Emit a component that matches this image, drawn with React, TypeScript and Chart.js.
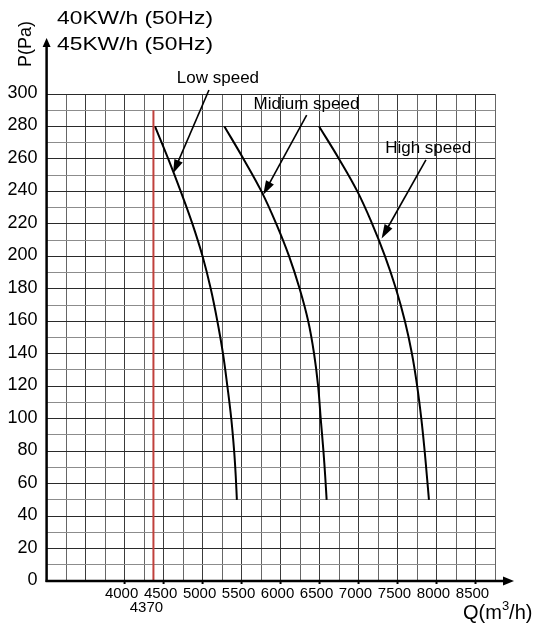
import React, { useEffect, useRef } from "react";
import { Chart, registerables } from "chart.js";

Chart.register(...registerables);

// ---- data ----
const lowQ = [4390, 4560, 4720, 4870, 5000, 5105, 5190, 5262, 5318, 5368, 5405, 5425, 5440];
const lowP = [280, 260, 240, 220, 200, 180, 160, 140, 120, 100, 80, 65, 50];
const midQ = [5280, 5525, 5755, 5945, 6110, 6245, 6355, 6430, 6482, 6515, 6550, 6572, 6591];
const midP = [280, 260, 240, 220, 200, 180, 160, 140, 120, 100, 80, 65, 50];
const highQ = [6495, 6750, 6985, 7175, 7340, 7480, 7595, 7685, 7752, 7805, 7848, 7876, 7903];
const highP = [280, 260, 240, 220, 200, 180, 160, 140, 120, 100, 80, 65, 50];
const markQ = 4370;
const markTopP = 290;

const xTickLabels = [4000, 4500, 5000, 5500, 6000, 6500, 7000, 7500, 8000, 8500];
const yTickLabels = [0, 20, 40, 60, 80, 100, 120, 140, 160, 180, 200, 220, 240, 260, 280, 300];

const speedNames = ["Low speed", "Midium speed", "High speed"];
// label anchor (Q, P) and arrow start/tip (Q, P)
const labelQ = [5197, 6333, 7893];
const labelP = [306.8, 290.5, 263.5];
const arrowFromQ = [5082, 6335, 7864];
const arrowFromP = [302.5, 287, 259.4];
const arrowToQ = [4621, 5778, 7296];
const arrowToP = [251, 238, 211];

const headerLines = ["40KW/h (50Hz)", "45KW/h (50Hz)"];

const FONT = '"Liberation Sans", Arial, Helvetica, sans-serif';

function pts(q: number[], p: number[]) {
  return q.map((v, i) => ({ x: v, y: p[i] }));
}

function arrowHead(ctx: CanvasRenderingContext2D, x1: number, y1: number, x2: number, y2: number, len: number, half: number) {
  const a = Math.atan2(y2 - y1, x2 - x1);
  const bx = x2 - len * Math.cos(a);
  const by = y2 - len * Math.sin(a);
  ctx.beginPath();
  ctx.moveTo(x2, y2);
  ctx.lineTo(bx + half * Math.sin(a), by - half * Math.cos(a));
  ctx.lineTo(bx - half * Math.sin(a), by + half * Math.cos(a));
  ctx.closePath();
  ctx.fill();
}

const decorPlugin = {
  id: "decor",
  afterDraw(chart: any) {
    const ctx: CanvasRenderingContext2D = chart.ctx;
    const xs = chart.scales.x;
    const ys = chart.scales.y;
    const area = chart.chartArea;
    ctx.save();
    ctx.fillStyle = "#000";
    ctx.strokeStyle = "#000";

    // y axis + arrow
    const x0 = area.left;
    const y0 = area.bottom;
    ctx.lineWidth = 2.5;
    ctx.beginPath();
    ctx.moveTo(x0, y0 + 1);
    ctx.lineTo(x0, 46);
    ctx.stroke();
    arrowHead(ctx, x0, 60, x0, 38, 9, 4);
    // x axis + arrow
    ctx.beginPath();
    ctx.moveTo(x0 - 1, y0);
    ctx.lineTo(505, y0);
    ctx.stroke();
    arrowHead(ctx, 480, y0, 514, y0, 11, 4.5);

    // x tick marks
    ctx.lineWidth = 2;
    xTickLabels.forEach((v) => {
      const px = xs.getPixelForValue(v);
      ctx.beginPath();
      ctx.moveTo(px, y0 - 1);
      ctx.lineTo(px, y0 + 3);
      ctx.stroke();
    });

    // y tick labels
    ctx.font = "18px " + FONT;
    ctx.textAlign = "right";
    ctx.textBaseline = "middle";
    yTickLabels.forEach((v) => {
      ctx.fillText(String(v), 37.5, ys.getPixelForValue(v) - 1);
    });

    // x tick labels
    ctx.font = "15px " + FONT;
    ctx.textAlign = "center";
    ctx.textBaseline = "alphabetic";
    xTickLabels.forEach((v) => {
      ctx.fillText(String(v), xs.getPixelForValue(v) - 3, 598);
    });
    ctx.fillText(String(markQ), xs.getPixelForValue(markQ) - 7, 612);

    // axis titles
    ctx.save();
    ctx.font = "18px " + FONT;
    ctx.translate(31, 44);
    ctx.rotate(-Math.PI / 2);
    ctx.textAlign = "center";
    ctx.fillText("P(Pa)", 0, 0);
    ctx.restore();

    ctx.textAlign = "left";
    ctx.font = "20px " + FONT;
    let qx = 463;
    const qy = 619;
    ctx.fillText("Q(m", qx, qy);
    qx += ctx.measureText("Q(m").width;
    ctx.font = "13px " + FONT;
    ctx.fillText("3", qx, qy - 9);
    qx += ctx.measureText("3").width;
    ctx.font = "20px " + FONT;
    ctx.fillText("/h)", qx, qy);

    // header lines (horizontally stretched)
    ctx.font = "18px " + FONT;
    const hb = [24, 50];
    headerLines.forEach((t, i) => {
      const w = ctx.measureText(t).width;
      ctx.save();
      ctx.translate(57, hb[i]);
      ctx.scale(156 / w, 1);
      ctx.fillText(t, 0, 0);
      ctx.restore();
    });

    // speed labels + arrows
    ctx.font = "17px " + FONT;
    ctx.textAlign = "center";
    ctx.lineWidth = 1.6;
    speedNames.forEach((name, i) => {
      ctx.fillText(name, xs.getPixelForValue(labelQ[i]), ys.getPixelForValue(labelP[i]));
      const fx = xs.getPixelForValue(arrowFromQ[i]);
      const fy = ys.getPixelForValue(arrowFromP[i]);
      const tx = xs.getPixelForValue(arrowToQ[i]);
      const ty = ys.getPixelForValue(arrowToP[i]);
      const a = Math.atan2(ty - fy, tx - fx);
      ctx.beginPath();
      ctx.moveTo(fx, fy);
      ctx.lineTo(tx - 10 * Math.cos(a), ty - 10 * Math.sin(a));
      ctx.stroke();
      arrowHead(ctx, fx, fy, tx, ty, 14, 4.5);
    });

    ctx.restore();
  },
};

export default function App() {
  const ref = useRef<HTMLCanvasElement | null>(null);

  useEffect(() => {
    document.body.style.margin = "0";
    const canvas = ref.current!;
    const lineStyle = {
      borderColor: "#000",
      borderWidth: 2,
      pointRadius: 0,
      showLine: true,
      tension: 0.4,
      fill: false,
    };
    const chart = new Chart(canvas, {
      type: "scatter",
      data: {
        datasets: [
          {
            label: "4370",
            data: [
              { x: markQ, y: 0 },
              { x: markQ, y: markTopP },
            ],
            borderColor: "#c0403c",
            borderWidth: 2,
            pointRadius: 0,
            showLine: true,
          },
          { label: "Low speed", data: pts(lowQ, lowP), ...lineStyle },
          { label: "Midium speed", data: pts(midQ, midP), ...lineStyle },
          { label: "High speed", data: pts(highQ, highP), ...lineStyle },
        ],
      },
      options: {
        responsive: false,
        animation: false,
        devicePixelRatio: 1,
        layout: { padding: { left: 46.6, right: 38, top: 94, bottom: 51 } },
        plugins: { legend: { display: false }, tooltip: { enabled: false } },
        scales: {
          x: {
            type: "linear",
            min: 3000,
            max: 8750,
            border: { display: false },
            ticks: { display: false, stepSize: 250 },
            grid: {
              drawTicks: false,
              lineWidth: 1,
              color: (c: any) => (c.tick && c.tick.value % 500 === 0 ? "#3a3a3a" : "#666"),
            },
          },
          y: {
            type: "linear",
            min: 0,
            max: 300,
            border: { display: false },
            ticks: { display: false, stepSize: 10 },
            grid: {
              drawTicks: false,
              lineWidth: 1,
              color: (c: any) => (c.tick && c.tick.value % 20 === 0 ? "#2a2a2a" : "#8c8c8c"),
            },
          },
        },
      },
      plugins: [decorPlugin],
    });
    return () => chart.destroy();
  }, []);

  return (
    <div style={{ position: "fixed", left: 0, top: 0, width: 533, height: 632, background: "#fff" }}>
      <canvas ref={ref} width={533} height={632} style={{ width: 533, height: 632, display: "block" }} />
    </div>
  );
}
